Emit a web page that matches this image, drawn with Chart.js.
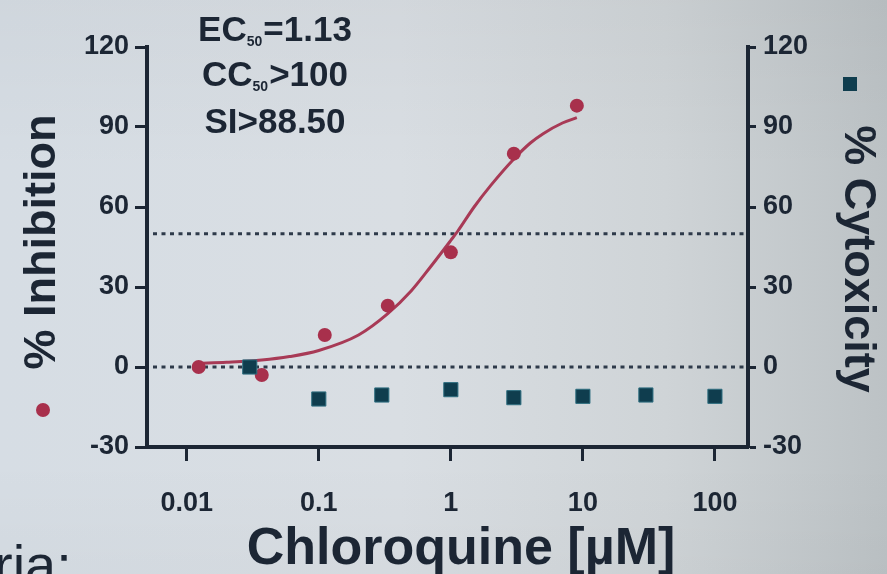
<!DOCTYPE html>
<html>
<head>
<meta charset="utf-8">
<title>Chloroquine dose response</title>
<script src="https://cdn.jsdelivr.net/npm/chart.js@4.4.1/dist/chart.umd.min.js"></script>
<style>
  html, body { margin: 0; padding: 0; }
  body {
    width: 887px; height: 574px; overflow: hidden;
    background:
      linear-gradient(180deg, rgba(0,0,0,0.03) 0%, rgba(0,0,0,0) 30%, rgba(0,0,0,0) 80%, rgba(0,0,0,0.02) 100%),
      linear-gradient(90deg, #d6dde4 0%, #d9dee3 45%, #cfd4d7 75%, #bcc2c5 100%);
  }
  #wrap { position: relative; width: 887px; height: 574px; }
</style>
</head>
<body>
<div id="wrap"><canvas id="c" width="887" height="574"></canvas></div>
<script>
// Concentrations in µM (3-fold dilutions for the antiviral assay)
const inhibitionConc = [0.0123, 0.037, 0.111, 0.333, 1.0, 3.0, 9.0];
const inhibitionPct  = [0, -3, 12, 23, 43, 80, 98];

// Cytotoxicity readout over the wider concentration range
const cytoConc = [0.03, 0.1, 0.3, 1, 3, 10, 30, 100];
const cytoPct  = [0, -12, -10.5, -8.5, -11.5, -11, -10.5, -11];

// Fitted dose-response curve (sampled along the fit)
const fitConc = [0.0123, 0.02, 0.037, 0.06, 0.1, 0.2, 0.333, 0.5, 0.7, 1.0, 1.13, 1.5, 2.0, 3.0, 4.0, 5.0, 7.0, 9.0];
const fitPct  = [1.4, 1.8, 2.6, 3.9, 6.2, 12, 20, 28.5, 37.5, 47.5, 51, 60, 68, 78, 84, 87.5, 91.5, 93.5];

// Axis ticks
const xTicks = [0.01, 0.1, 1, 10, 100];
const xTickLabels = ['0.01', '0.1', '1', '10', '100'];
const yTicks = [-30, 0, 30, 60, 90, 120];

// Horizontal dotted reference levels (% inhibition)
const refLevels = [0, 50];

// Summary statistics printed above the curve
const statLines = [
  { pre: 'EC', sub: '50', post: '=1.13' },
  { pre: 'CC', sub: '50', post: '>100' },
  { pre: 'SI', sub: '',   post: '>88.50' }
];

const RED = '#a8304c';
const TEAL = '#0f3d4e';
const INK = '#1c2634';
const FONT = '"Liberation Sans", Arial, sans-serif';

const toXY = (xs, ys) => xs.map((x, i) => ({ x: x, y: ys[i] }));

const decorations = {
  id: 'decorations',
  beforeDatasetsDraw(chart) {
    const { ctx, chartArea } = chart;
    const y = chart.scales.y;
    ctx.save();
    ctx.strokeStyle = '#2e3a4a';
    ctx.lineWidth = 3;
    ctx.setLineDash([4, 4.5]);
    refLevels.forEach(v => {
      const py = y.getPixelForValue(v);
      ctx.beginPath();
      ctx.moveTo(chartArea.left + 6, py);
      ctx.lineTo(chartArea.right - 2, py);
      ctx.stroke();
    });
    ctx.restore();
  },
  afterDraw(chart) {
    const { ctx } = chart;
    ctx.save();
    ctx.fillStyle = INK;

    // Left axis title with its marker
    ctx.save();
    ctx.translate(43, 242);
    ctx.rotate(-Math.PI / 2);
    ctx.font = 'bold 45px ' + FONT;
    ctx.textAlign = 'center';
    ctx.textBaseline = 'middle';
    ctx.fillText('% Inhibition', 0, 0);
    ctx.restore();
    ctx.beginPath();
    ctx.fillStyle = RED;
    ctx.arc(43, 410, 7, 0, Math.PI * 2);
    ctx.fill();

    // Right axis title with its marker
    ctx.fillStyle = INK;
    ctx.save();
    ctx.translate(857, 259);
    ctx.rotate(Math.PI / 2);
    ctx.font = 'bold 45px ' + FONT;
    ctx.textAlign = 'center';
    ctx.textBaseline = 'middle';
    ctx.fillText('% Cytoxicity', 0, 0);
    ctx.restore();
    ctx.fillStyle = TEAL;
    ctx.fillRect(843, 77, 14, 14);

    // X axis title
    ctx.fillStyle = INK;
    ctx.font = 'bold 52px ' + FONT;
    ctx.textAlign = 'center';
    ctx.textBaseline = 'alphabetic';
    ctx.fillText('Chloroquine [\u00B5M]', 461, 564);

    // Stats block
    const cx = 275;
    const baselines = [41, 86, 133];
    statLines.forEach((ln, i) => {
      const mainFont = 'bold 35px ' + FONT;
      const subFont = 'bold 14px ' + FONT;
      ctx.font = mainFont;
      const wPre = ctx.measureText(ln.pre).width;
      const wPost = ctx.measureText(ln.post).width;
      ctx.font = subFont;
      const wSub = ln.sub ? ctx.measureText(ln.sub).width + 1 : 0;
      let x = cx - (wPre + wSub + wPost) / 2;
      const by = baselines[i];
      ctx.textAlign = 'left';
      ctx.font = mainFont;
      ctx.fillText(ln.pre, x, by);
      x += wPre;
      if (ln.sub) {
        ctx.font = subFont;
        ctx.fillText(ln.sub, x, by + 5);
        x += wSub;
      }
      ctx.font = mainFont;
      ctx.fillText(ln.post, x, by);
    });

    // Caption fragment below the figure
    ctx.font = '56px ' + FONT;
    ctx.textAlign = 'left';
    ctx.fillText('ria:', -6, 584);
    ctx.restore();
  }
};

new Chart(document.getElementById('c'), {
  type: 'scatter',
  data: {
    datasets: [
      {
        label: '% Cytoxicity',
        data: toXY(cytoConc, cytoPct),
        yAxisID: 'y2',
        pointStyle: 'rect',
        pointRadius: 10,
        pointBackgroundColor: TEAL,
        pointBorderColor: '#2f6f80',
        pointBorderWidth: 1,
        showLine: false,
        order: 0
      },
      {
        label: '% Inhibition',
        data: toXY(inhibitionConc, inhibitionPct),
        yAxisID: 'y',
        pointStyle: 'circle',
        pointRadius: 7,
        pointBackgroundColor: RED,
        pointBorderColor: RED,
        pointBorderWidth: 0,
        showLine: false,
        order: 1
      },
      {
        label: 'Fit',
        type: 'line',
        data: toXY(fitConc, fitPct),
        yAxisID: 'y',
        borderColor: '#a83a56',
        borderWidth: 3,
        pointRadius: 0,
        fill: false,
        cubicInterpolationMode: 'monotone',
        order: 2
      }
    ]
  },
  options: {
    responsive: false,
    animation: false,
    devicePixelRatio: 1,
    layout: { padding: { top: 47, left: 0, right: 0, bottom: 0 } },
    plugins: { legend: { display: false }, tooltip: { enabled: false } },
    scales: {
      x: {
        type: 'logarithmic',
        position: 'bottom',
        min: 0.005,
        max: 178,
        afterBuildTicks: s => { s.ticks = xTicks.map(v => ({ value: v })); },
        afterFit: s => { s.height = 127; },
        border: { display: true, color: INK, width: 4 },
        grid: { display: true, drawOnChartArea: false, drawTicks: true, tickLength: 14, tickWidth: 3, tickColor: INK, color: INK },
        ticks: {
          autoSkip: false, maxRotation: 0, padding: 26,
          color: INK, font: { family: FONT, size: 27, weight: 'bold' },
          callback: (v) => { const i = xTicks.indexOf(v); return i >= 0 ? xTickLabels[i] : ''; }
        }
      },
      y: {
        type: 'linear',
        position: 'left',
        min: -30, max: 120,
        afterBuildTicks: s => { s.ticks = yTicks.map(v => ({ value: v })); },
        afterFit: s => { s.width = 147; },
        border: { display: true, color: INK, width: 4 },
        grid: { display: true, drawOnChartArea: false, drawTicks: true, tickLength: 12, tickWidth: 3, tickColor: INK, color: INK },
        ticks: { padding: 6, color: INK, font: { family: FONT, size: 27, weight: 'bold' } }
      },
      y2: {
        type: 'linear',
        position: 'right',
        min: -30, max: 120,
        afterBuildTicks: s => { s.ticks = yTicks.map(v => ({ value: v })); },
        afterFit: s => { s.width = 139; },
        border: { display: true, color: INK, width: 4 },
        grid: { display: true, drawOnChartArea: false, drawTicks: true, tickLength: 8, tickWidth: 3, tickColor: INK, color: INK },
        ticks: { padding: 7, color: INK, font: { family: FONT, size: 27, weight: 'bold' } }
      }
    }
  },
  plugins: [decorations]
});
</script>
</body>
</html>
